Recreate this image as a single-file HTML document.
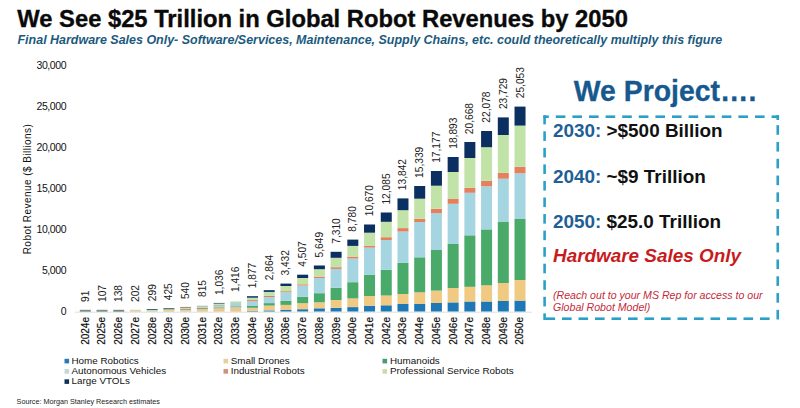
<!DOCTYPE html>
<html><head><meta charset="utf-8">
<style>
html,body{margin:0;padding:0;background:#fff;}
body{width:800px;height:408px;position:relative;overflow:hidden;font-family:"Liberation Sans",sans-serif;}
.abs{position:absolute;white-space:nowrap;}
svg{position:absolute;left:0;top:0;}
svg text{font-family:"Liberation Sans",sans-serif;}
.v{font-size:10.2px;fill:#222;}
.yr{font-size:10px;fill:#111;stroke:#111;stroke-width:0.2px;}
.ya{font-size:10.5px;fill:#111;letter-spacing:-0.4px;}
.yt{font-size:10px;fill:#111;letter-spacing:0.45px;}
.leg{font-size:9.85px;fill:#111;}
</style></head><body>
<div class="abs" id="title" style="left:17.3px;top:4px;font-size:23.75px;font-weight:bold;color:#0a0a0a;-webkit-text-stroke:0.35px #0a0a0a;line-height:30px;">We See $25 Trillion in Global Robot Revenues by 2050</div>
<div class="abs" id="sub" style="left:17.5px;top:32px;font-size:12.47px;font-weight:bold;font-style:italic;color:#1b5a7e;line-height:16px;">Final Hardware Sales Only- Software/Services, Maintenance, Supply Chains, etc. could theoretically multiply this figure</div>
<svg width="800" height="408" viewBox="0 0 800 408">
<line x1="75" y1="312.2" x2="532" y2="312.2" stroke="#d8d8d8" stroke-width="0.8"/>
<rect x="79.80" y="309.80" width="11.0" height="1.90" fill="#7f8c84"/>
<text class="v" transform="translate(88.80,302.00) rotate(-90)">91</text>
<text class="yr" transform="translate(88.70,317.00) rotate(-90)" text-anchor="end">2024e</text>
<rect x="96.52" y="309.80" width="11.0" height="1.90" fill="#808d86"/>
<text class="v" transform="translate(105.52,302.00) rotate(-90)">107</text>
<text class="yr" transform="translate(105.42,317.00) rotate(-90)" text-anchor="end">2025e</text>
<rect x="113.24" y="309.80" width="11.0" height="1.90" fill="#7a8780"/>
<text class="v" transform="translate(122.24,302.00) rotate(-90)">138</text>
<text class="yr" transform="translate(122.14,317.00) rotate(-90)" text-anchor="end">2026e</text>
<rect x="129.96" y="309.80" width="11.0" height="1.90" fill="#d8d2b0"/>
<text class="v" transform="translate(138.96,302.00) rotate(-90)">202</text>
<text class="yr" transform="translate(138.86,317.00) rotate(-90)" text-anchor="end">2027e</text>
<rect x="146.68" y="309.00" width="11.0" height="1.20" fill="#4a6a5a"/>
<rect x="146.68" y="310.20" width="11.0" height="1.50" fill="#c8d4b8"/>
<text class="v" transform="translate(155.68,301.20) rotate(-90)">299</text>
<text class="yr" transform="translate(155.58,317.00) rotate(-90)" text-anchor="end">2028e</text>
<rect x="163.40" y="308.20" width="11.0" height="1.10" fill="#3c5a55"/>
<rect x="163.40" y="309.30" width="11.0" height="0.90" fill="#9ab898"/>
<rect x="163.40" y="310.20" width="11.0" height="1.50" fill="#e4c890"/>
<text class="v" transform="translate(172.40,300.21) rotate(-90)">425</text>
<text class="yr" transform="translate(172.30,317.00) rotate(-90)" text-anchor="end">2029e</text>
<rect x="180.12" y="306.90" width="11.0" height="1.00" fill="#8a8a6a"/>
<rect x="180.12" y="307.90" width="11.0" height="1.10" fill="#d4d0b0"/>
<rect x="180.12" y="309.00" width="11.0" height="1.00" fill="#a8a880"/>
<rect x="180.12" y="310.00" width="11.0" height="1.70" fill="#dcd0a8"/>
<text class="v" transform="translate(189.12,299.10) rotate(-90)">540</text>
<text class="yr" transform="translate(189.02,317.00) rotate(-90)" text-anchor="end">2030e</text>
<rect x="196.84" y="305.75" width="11.0" height="1.05" fill="#a0b0a0"/>
<rect x="196.84" y="306.80" width="11.0" height="1.20" fill="#c8dcb8"/>
<rect x="196.84" y="308.00" width="11.0" height="1.00" fill="#8aa080"/>
<rect x="196.84" y="309.00" width="11.0" height="2.70" fill="#e0cc98"/>
<text class="v" transform="translate(205.84,297.02) rotate(-90)">815</text>
<text class="yr" transform="translate(205.74,317.00) rotate(-90)" text-anchor="end">2031e</text>
<rect x="213.56" y="302.90" width="11.0" height="1.10" fill="#6a8a7a"/>
<rect x="213.56" y="304.00" width="11.0" height="1.50" fill="#c8dcc0"/>
<rect x="213.56" y="305.50" width="11.0" height="1.00" fill="#7a9a90"/>
<rect x="213.56" y="306.50" width="11.0" height="1.00" fill="#c0d8c0"/>
<rect x="213.56" y="307.50" width="11.0" height="1.00" fill="#5a9a70"/>
<rect x="213.56" y="308.50" width="11.0" height="3.20" fill="#e8c890"/>
<text class="v" transform="translate(222.56,295.10) rotate(-90)">1,036</text>
<text class="yr" transform="translate(222.46,317.00) rotate(-90)" text-anchor="end">2032e</text>
<rect x="230.28" y="301.40" width="11.0" height="1.60" fill="#c0dcb0"/>
<rect x="230.28" y="303.00" width="11.0" height="3.50" fill="#a8d4d8"/>
<rect x="230.28" y="306.50" width="11.0" height="1.00" fill="#5aa070"/>
<rect x="230.28" y="307.50" width="11.0" height="4.20" fill="#e8c890"/>
<text class="v" transform="translate(239.28,292.09) rotate(-90)">1,416</text>
<text class="yr" transform="translate(239.18,317.00) rotate(-90)" text-anchor="end">2033e</text>
<rect x="247.00" y="310.70" width="11.0" height="0.80" fill="#1f78b6"/>
<rect x="247.00" y="307.80" width="11.0" height="2.90" fill="#f0ca82"/>
<rect x="247.00" y="306.00" width="11.0" height="1.80" fill="#4aaa6a"/>
<rect x="247.00" y="301.20" width="11.0" height="4.80" fill="#a6d5e2"/>
<rect x="247.00" y="300.10" width="11.0" height="1.10" fill="#e5805e"/>
<rect x="247.00" y="297.70" width="11.0" height="2.40" fill="#c2e3a8"/>
<rect x="247.00" y="296.20" width="11.0" height="1.50" fill="#0b2f60"/>
<text class="v" transform="translate(256.00,288.31) rotate(-90)">1,877</text>
<text class="yr" transform="translate(255.90,317.00) rotate(-90)" text-anchor="end">2034e</text>
<rect x="263.72" y="310.40" width="11.0" height="1.10" fill="#1f78b6"/>
<rect x="263.72" y="305.60" width="11.0" height="4.80" fill="#f0ca82"/>
<rect x="263.72" y="303.10" width="11.0" height="2.50" fill="#4aaa6a"/>
<rect x="263.72" y="297.00" width="11.0" height="6.10" fill="#a6d5e2"/>
<rect x="263.72" y="295.90" width="11.0" height="1.10" fill="#e5805e"/>
<rect x="263.72" y="291.90" width="11.0" height="4.00" fill="#c2e3a8"/>
<rect x="263.72" y="290.20" width="11.0" height="1.70" fill="#0b2f60"/>
<text class="v" transform="translate(272.72,280.22) rotate(-90)">2,864</text>
<text class="yr" transform="translate(272.62,317.00) rotate(-90)" text-anchor="end">2035e</text>
<rect x="280.44" y="309.70" width="11.0" height="1.80" fill="#1f78b6"/>
<rect x="280.44" y="304.90" width="11.0" height="4.80" fill="#f0ca82"/>
<rect x="280.44" y="300.60" width="11.0" height="4.30" fill="#4aaa6a"/>
<rect x="280.44" y="292.20" width="11.0" height="8.40" fill="#a6d5e2"/>
<rect x="280.44" y="291.20" width="11.0" height="1.00" fill="#e5805e"/>
<rect x="280.44" y="286.00" width="11.0" height="5.20" fill="#c2e3a8"/>
<rect x="280.44" y="283.60" width="11.0" height="2.40" fill="#0b2f60"/>
<text class="v" transform="translate(289.44,275.56) rotate(-90)">3,432</text>
<text class="yr" transform="translate(289.34,317.00) rotate(-90)" text-anchor="end">2036e</text>
<rect x="297.16" y="309.20" width="11.0" height="2.30" fill="#1f78b6"/>
<rect x="297.16" y="303.20" width="11.0" height="6.00" fill="#f0ca82"/>
<rect x="297.16" y="296.70" width="11.0" height="6.50" fill="#4aaa6a"/>
<rect x="297.16" y="285.50" width="11.0" height="11.20" fill="#a6d5e2"/>
<rect x="297.16" y="284.30" width="11.0" height="1.20" fill="#e5805e"/>
<rect x="297.16" y="278.00" width="11.0" height="6.30" fill="#c2e3a8"/>
<rect x="297.16" y="274.70" width="11.0" height="3.30" fill="#0b2f60"/>
<text class="v" transform="translate(306.16,266.74) rotate(-90)">4,507</text>
<text class="yr" transform="translate(306.06,317.00) rotate(-90)" text-anchor="end">2037e</text>
<rect x="313.88" y="308.30" width="11.0" height="3.20" fill="#1f78b6"/>
<rect x="313.88" y="302.30" width="11.0" height="6.00" fill="#f0ca82"/>
<rect x="313.88" y="293.20" width="11.0" height="9.10" fill="#4aaa6a"/>
<rect x="313.88" y="278.00" width="11.0" height="15.20" fill="#a6d5e2"/>
<rect x="313.88" y="276.60" width="11.0" height="1.40" fill="#e5805e"/>
<rect x="313.88" y="269.20" width="11.0" height="7.40" fill="#c2e3a8"/>
<rect x="313.88" y="265.50" width="11.0" height="3.70" fill="#0b2f60"/>
<text class="v" transform="translate(322.88,257.38) rotate(-90)">5,649</text>
<text class="yr" transform="translate(322.78,317.00) rotate(-90)" text-anchor="end">2038e</text>
<rect x="330.60" y="307.80" width="11.0" height="3.70" fill="#1f78b6"/>
<rect x="330.60" y="300.00" width="11.0" height="7.80" fill="#f0ca82"/>
<rect x="330.60" y="287.70" width="11.0" height="12.30" fill="#4aaa6a"/>
<rect x="330.60" y="268.90" width="11.0" height="18.80" fill="#a6d5e2"/>
<rect x="330.60" y="267.20" width="11.0" height="1.70" fill="#e5805e"/>
<rect x="330.60" y="257.80" width="11.0" height="9.40" fill="#c2e3a8"/>
<rect x="330.60" y="251.80" width="11.0" height="6.00" fill="#0b2f60"/>
<text class="v" transform="translate(339.60,243.76) rotate(-90)">7,310</text>
<text class="yr" transform="translate(339.50,317.00) rotate(-90)" text-anchor="end">2039e</text>
<rect x="347.32" y="307.10" width="11.0" height="4.40" fill="#1f78b6"/>
<rect x="347.32" y="298.40" width="11.0" height="8.70" fill="#f0ca82"/>
<rect x="347.32" y="282.20" width="11.0" height="16.20" fill="#4aaa6a"/>
<rect x="347.32" y="258.50" width="11.0" height="23.70" fill="#a6d5e2"/>
<rect x="347.32" y="256.60" width="11.0" height="1.90" fill="#e5805e"/>
<rect x="347.32" y="245.90" width="11.0" height="10.70" fill="#c2e3a8"/>
<rect x="347.32" y="239.60" width="11.0" height="6.30" fill="#0b2f60"/>
<text class="v" transform="translate(356.32,231.70) rotate(-90)">8,780</text>
<text class="yr" transform="translate(356.22,317.00) rotate(-90)" text-anchor="end">2040e</text>
<rect x="364.04" y="305.70" width="11.0" height="5.80" fill="#1f78b6"/>
<rect x="364.04" y="296.00" width="11.0" height="9.70" fill="#f0ca82"/>
<rect x="364.04" y="274.90" width="11.0" height="21.10" fill="#4aaa6a"/>
<rect x="364.04" y="247.60" width="11.0" height="27.30" fill="#a6d5e2"/>
<rect x="364.04" y="245.90" width="11.0" height="1.70" fill="#e5805e"/>
<rect x="364.04" y="232.70" width="11.0" height="13.20" fill="#c2e3a8"/>
<rect x="364.04" y="224.50" width="11.0" height="8.20" fill="#0b2f60"/>
<text class="v" transform="translate(373.04,216.21) rotate(-90)">10,670</text>
<text class="yr" transform="translate(372.94,317.00) rotate(-90)" text-anchor="end">2041e</text>
<rect x="380.76" y="305.30" width="11.0" height="6.20" fill="#1f78b6"/>
<rect x="380.76" y="295.50" width="11.0" height="9.80" fill="#f0ca82"/>
<rect x="380.76" y="269.80" width="11.0" height="25.70" fill="#4aaa6a"/>
<rect x="380.76" y="240.00" width="11.0" height="29.80" fill="#a6d5e2"/>
<rect x="380.76" y="237.20" width="11.0" height="2.80" fill="#e5805e"/>
<rect x="380.76" y="221.80" width="11.0" height="15.40" fill="#c2e3a8"/>
<rect x="380.76" y="212.50" width="11.0" height="9.30" fill="#0b2f60"/>
<text class="v" transform="translate(389.76,204.60) rotate(-90)">12,085</text>
<text class="yr" transform="translate(389.66,317.00) rotate(-90)" text-anchor="end">2042e</text>
<rect x="397.48" y="304.00" width="11.0" height="7.50" fill="#1f78b6"/>
<rect x="397.48" y="294.00" width="11.0" height="10.00" fill="#f0ca82"/>
<rect x="397.48" y="262.90" width="11.0" height="31.10" fill="#4aaa6a"/>
<rect x="397.48" y="231.50" width="11.0" height="31.40" fill="#a6d5e2"/>
<rect x="397.48" y="228.10" width="11.0" height="3.40" fill="#e5805e"/>
<rect x="397.48" y="210.20" width="11.0" height="17.90" fill="#c2e3a8"/>
<rect x="397.48" y="198.40" width="11.0" height="11.80" fill="#0b2f60"/>
<text class="v" transform="translate(406.48,190.20) rotate(-90)">13,842</text>
<text class="yr" transform="translate(406.38,317.00) rotate(-90)" text-anchor="end">2043e</text>
<rect x="414.20" y="304.00" width="11.0" height="7.50" fill="#1f78b6"/>
<rect x="414.20" y="292.30" width="11.0" height="11.70" fill="#f0ca82"/>
<rect x="414.20" y="257.30" width="11.0" height="35.00" fill="#4aaa6a"/>
<rect x="414.20" y="222.00" width="11.0" height="35.30" fill="#a6d5e2"/>
<rect x="414.20" y="218.80" width="11.0" height="3.20" fill="#e5805e"/>
<rect x="414.20" y="198.70" width="11.0" height="20.10" fill="#c2e3a8"/>
<rect x="414.20" y="186.00" width="11.0" height="12.70" fill="#0b2f60"/>
<text class="v" transform="translate(423.20,177.92) rotate(-90)">15,339</text>
<text class="yr" transform="translate(423.10,317.00) rotate(-90)" text-anchor="end">2044e</text>
<rect x="430.92" y="303.00" width="11.0" height="8.50" fill="#1f78b6"/>
<rect x="430.92" y="290.60" width="11.0" height="12.40" fill="#f0ca82"/>
<rect x="430.92" y="250.00" width="11.0" height="40.60" fill="#4aaa6a"/>
<rect x="430.92" y="213.20" width="11.0" height="36.80" fill="#a6d5e2"/>
<rect x="430.92" y="208.70" width="11.0" height="4.50" fill="#e5805e"/>
<rect x="430.92" y="185.70" width="11.0" height="23.00" fill="#c2e3a8"/>
<rect x="430.92" y="171.00" width="11.0" height="14.70" fill="#0b2f60"/>
<text class="v" transform="translate(439.92,162.85) rotate(-90)">17,177</text>
<text class="yr" transform="translate(439.82,317.00) rotate(-90)" text-anchor="end">2045e</text>
<rect x="447.64" y="302.40" width="11.0" height="9.10" fill="#1f78b6"/>
<rect x="447.64" y="288.00" width="11.0" height="14.40" fill="#f0ca82"/>
<rect x="447.64" y="244.00" width="11.0" height="44.00" fill="#4aaa6a"/>
<rect x="447.64" y="203.80" width="11.0" height="40.20" fill="#a6d5e2"/>
<rect x="447.64" y="199.00" width="11.0" height="4.80" fill="#e5805e"/>
<rect x="447.64" y="172.00" width="11.0" height="27.00" fill="#c2e3a8"/>
<rect x="447.64" y="157.00" width="11.0" height="15.00" fill="#0b2f60"/>
<text class="v" transform="translate(456.64,148.78) rotate(-90)">18,893</text>
<text class="yr" transform="translate(456.54,317.00) rotate(-90)" text-anchor="end">2046e</text>
<rect x="464.36" y="301.50" width="11.0" height="10.00" fill="#1f78b6"/>
<rect x="464.36" y="286.80" width="11.0" height="14.70" fill="#f0ca82"/>
<rect x="464.36" y="235.30" width="11.0" height="51.50" fill="#4aaa6a"/>
<rect x="464.36" y="192.80" width="11.0" height="42.50" fill="#a6d5e2"/>
<rect x="464.36" y="187.90" width="11.0" height="4.90" fill="#e5805e"/>
<rect x="464.36" y="158.00" width="11.0" height="29.90" fill="#c2e3a8"/>
<rect x="464.36" y="142.00" width="11.0" height="16.00" fill="#0b2f60"/>
<text class="v" transform="translate(473.36,134.20) rotate(-90)">20,668</text>
<text class="yr" transform="translate(473.26,317.00) rotate(-90)" text-anchor="end">2047e</text>
<rect x="481.08" y="301.50" width="11.0" height="10.00" fill="#1f78b6"/>
<rect x="481.08" y="285.30" width="11.0" height="16.20" fill="#f0ca82"/>
<rect x="481.08" y="229.40" width="11.0" height="55.90" fill="#4aaa6a"/>
<rect x="481.08" y="186.30" width="11.0" height="43.10" fill="#a6d5e2"/>
<rect x="481.08" y="180.90" width="11.0" height="5.40" fill="#e5805e"/>
<rect x="481.08" y="147.20" width="11.0" height="33.70" fill="#c2e3a8"/>
<rect x="481.08" y="131.00" width="11.0" height="16.20" fill="#0b2f60"/>
<text class="v" transform="translate(490.08,122.66) rotate(-90)">22,078</text>
<text class="yr" transform="translate(489.98,317.00) rotate(-90)" text-anchor="end">2048e</text>
<rect x="497.80" y="301.00" width="11.0" height="10.50" fill="#1f78b6"/>
<rect x="497.80" y="283.00" width="11.0" height="18.00" fill="#f0ca82"/>
<rect x="497.80" y="222.00" width="11.0" height="61.00" fill="#4aaa6a"/>
<rect x="497.80" y="178.70" width="11.0" height="43.30" fill="#a6d5e2"/>
<rect x="497.80" y="172.80" width="11.0" height="5.90" fill="#e5805e"/>
<rect x="497.80" y="135.00" width="11.0" height="37.80" fill="#c2e3a8"/>
<rect x="497.80" y="117.40" width="11.0" height="17.60" fill="#0b2f60"/>
<text class="v" transform="translate(506.80,109.12) rotate(-90)">23,729</text>
<text class="yr" transform="translate(506.70,317.00) rotate(-90)" text-anchor="end">2049e</text>
<rect x="514.52" y="300.60" width="11.0" height="10.90" fill="#1f78b6"/>
<rect x="514.52" y="280.00" width="11.0" height="20.60" fill="#f0ca82"/>
<rect x="514.52" y="219.00" width="11.0" height="61.00" fill="#4aaa6a"/>
<rect x="514.52" y="173.30" width="11.0" height="45.70" fill="#a6d5e2"/>
<rect x="514.52" y="166.80" width="11.0" height="6.50" fill="#e5805e"/>
<rect x="514.52" y="125.60" width="11.0" height="41.20" fill="#c2e3a8"/>
<rect x="514.52" y="106.60" width="11.0" height="19.00" fill="#0b2f60"/>
<text class="v" transform="translate(523.52,98.27) rotate(-90)">25,053</text>
<text class="yr" transform="translate(523.42,317.00) rotate(-90)" text-anchor="end">2050e</text>
<text class="ya" x="66.2" y="315.40" text-anchor="end">0</text>
<text class="ya" x="66.2" y="274.40" text-anchor="end">5,000</text>
<text class="ya" x="66.2" y="233.40" text-anchor="end">10,000</text>
<text class="ya" x="66.2" y="192.40" text-anchor="end">15,000</text>
<text class="ya" x="66.2" y="151.40" text-anchor="end">20,000</text>
<text class="ya" x="66.2" y="110.40" text-anchor="end">25,000</text>
<text class="ya" x="66.2" y="69.40" text-anchor="end">30,000</text>
<text class="yt" transform="translate(30.8,254.3) rotate(-90)">Robot Revenue ($ Billions)</text>
<rect x="64.5" y="358.8" width="4.6" height="4.6" fill="#2a7ab4"/>
<rect x="64.5" y="369.1" width="4.6" height="4.6" fill="#c2d8d8"/>
<rect x="64.5" y="379.3" width="4.6" height="4.6" fill="#0f3358"/>
<text class="leg" x="71.5" y="363.5">Home Robotics</text>
<text class="leg" x="71.5" y="373.8">Autonomous Vehicles</text>
<text class="leg" x="71.5" y="384">Large VTOLs</text>
<rect x="223.5" y="358.8" width="4.6" height="4.6" fill="#e8d09a"/>
<rect x="223.5" y="369.1" width="4.6" height="4.6" fill="#d4907a"/>
<text class="leg" x="230.7" y="363.5">Small Drones</text>
<text class="leg" x="230.7" y="373.8">Industrial Robots</text>
<rect x="382.5" y="358.8" width="4.6" height="4.6" fill="#4a9a70"/>
<rect x="382.5" y="369.1" width="4.6" height="4.6" fill="#c8dcb0"/>
<text class="leg" x="390" y="363.5">Humanoids</text>
<text class="leg" x="390" y="373.8">Professional Service Robots</text>
<text x="16.6" y="404" style="font-size:7.22px;fill:#222;">Source: Morgan Stanley Research estimates</text>
<rect x="543.30" y="115.40" width="5.50" height="2.6" fill="#2a9fc8"/>
<rect x="555.80" y="115.40" width="9.60" height="2.6" fill="#2a9fc8"/>
<rect x="572.40" y="115.40" width="9.60" height="2.6" fill="#2a9fc8"/>
<rect x="589.00" y="115.40" width="9.60" height="2.6" fill="#2a9fc8"/>
<rect x="605.60" y="115.40" width="9.60" height="2.6" fill="#2a9fc8"/>
<rect x="622.20" y="115.40" width="9.60" height="2.6" fill="#2a9fc8"/>
<rect x="638.80" y="115.40" width="9.60" height="2.6" fill="#2a9fc8"/>
<rect x="655.40" y="115.40" width="9.60" height="2.6" fill="#2a9fc8"/>
<rect x="672.00" y="115.40" width="9.60" height="2.6" fill="#2a9fc8"/>
<rect x="688.60" y="115.40" width="9.60" height="2.6" fill="#2a9fc8"/>
<rect x="705.20" y="115.40" width="9.60" height="2.6" fill="#2a9fc8"/>
<rect x="721.80" y="115.40" width="9.60" height="2.6" fill="#2a9fc8"/>
<rect x="738.40" y="115.40" width="9.60" height="2.6" fill="#2a9fc8"/>
<rect x="755.00" y="115.40" width="9.60" height="2.6" fill="#2a9fc8"/>
<rect x="771.60" y="115.40" width="7.45" height="2.6" fill="#2a9fc8"/>
<rect x="776.45" y="115.40" width="2.6" height="4.60" fill="#2a9fc8"/>
<rect x="776.45" y="115.40" width="2.6" height="2.60" fill="#2a9fc8"/>
<rect x="776.45" y="125.19" width="2.6" height="9.60" fill="#2a9fc8"/>
<rect x="776.45" y="141.98" width="2.6" height="9.60" fill="#2a9fc8"/>
<rect x="776.45" y="158.77" width="2.6" height="9.60" fill="#2a9fc8"/>
<rect x="776.45" y="175.56" width="2.6" height="9.60" fill="#2a9fc8"/>
<rect x="776.45" y="192.35" width="2.6" height="9.60" fill="#2a9fc8"/>
<rect x="776.45" y="209.14" width="2.6" height="9.60" fill="#2a9fc8"/>
<rect x="776.45" y="225.93" width="2.6" height="9.60" fill="#2a9fc8"/>
<rect x="776.45" y="242.72" width="2.6" height="9.60" fill="#2a9fc8"/>
<rect x="776.45" y="259.51" width="2.6" height="9.60" fill="#2a9fc8"/>
<rect x="776.45" y="276.30" width="2.6" height="9.60" fill="#2a9fc8"/>
<rect x="776.45" y="293.09" width="2.6" height="9.60" fill="#2a9fc8"/>
<rect x="776.45" y="309.88" width="2.6" height="9.60" fill="#2a9fc8"/>
<rect x="545.50" y="317.40" width="9.60" height="2.6" fill="#2a9fc8"/>
<rect x="562.00" y="317.40" width="9.60" height="2.6" fill="#2a9fc8"/>
<rect x="578.50" y="317.40" width="9.60" height="2.6" fill="#2a9fc8"/>
<rect x="595.00" y="317.40" width="9.60" height="2.6" fill="#2a9fc8"/>
<rect x="611.50" y="317.40" width="9.60" height="2.6" fill="#2a9fc8"/>
<rect x="628.00" y="317.40" width="9.60" height="2.6" fill="#2a9fc8"/>
<rect x="644.50" y="317.40" width="9.60" height="2.6" fill="#2a9fc8"/>
<rect x="661.00" y="317.40" width="9.60" height="2.6" fill="#2a9fc8"/>
<rect x="677.50" y="317.40" width="9.60" height="2.6" fill="#2a9fc8"/>
<rect x="694.00" y="317.40" width="9.60" height="2.6" fill="#2a9fc8"/>
<rect x="710.50" y="317.40" width="9.60" height="2.6" fill="#2a9fc8"/>
<rect x="727.00" y="317.40" width="9.60" height="2.6" fill="#2a9fc8"/>
<rect x="743.50" y="317.40" width="9.60" height="2.6" fill="#2a9fc8"/>
<rect x="760.00" y="317.40" width="9.60" height="2.6" fill="#2a9fc8"/>
<rect x="543.30" y="115.40" width="2.6" height="8.95" fill="#2a9fc8"/>
<rect x="543.30" y="131.30" width="2.6" height="9.60" fill="#2a9fc8"/>
<rect x="543.30" y="147.85" width="2.6" height="9.60" fill="#2a9fc8"/>
<rect x="543.30" y="164.40" width="2.6" height="9.60" fill="#2a9fc8"/>
<rect x="543.30" y="180.95" width="2.6" height="9.60" fill="#2a9fc8"/>
<rect x="543.30" y="197.50" width="2.6" height="9.60" fill="#2a9fc8"/>
<rect x="543.30" y="214.05" width="2.6" height="9.60" fill="#2a9fc8"/>
<rect x="543.30" y="230.60" width="2.6" height="9.60" fill="#2a9fc8"/>
<rect x="543.30" y="247.15" width="2.6" height="9.60" fill="#2a9fc8"/>
<rect x="543.30" y="263.70" width="2.6" height="9.60" fill="#2a9fc8"/>
<rect x="543.30" y="280.25" width="2.6" height="9.60" fill="#2a9fc8"/>
<rect x="543.30" y="296.80" width="2.6" height="9.60" fill="#2a9fc8"/>
<rect x="543.30" y="313.35" width="2.6" height="6.65" fill="#2a9fc8"/>
</svg>
<div class="abs" style="left:573.8px;top:73px;font-size:28.4px;font-weight:bold;color:#17598f;-webkit-text-stroke:0.3px #17598f;line-height:36px;transform:scaleY(1.06);transform-origin:0 28px;">We Project….</div>
<div class="abs" style="left:553px;top:120px;font-size:18.9px;font-weight:bold;color:#111;line-height:22px;"><span style="color:#1e5f95">2030:</span> &gt;$500 Billion</div>
<div class="abs" style="left:553px;top:166px;font-size:18.9px;font-weight:bold;color:#111;line-height:22px;"><span style="color:#1e5f95">2040:</span> ~$9 Trillion</div>
<div class="abs" style="left:553px;top:211px;font-size:18.9px;font-weight:bold;color:#111;line-height:22px;"><span style="color:#1e5f95">2050:</span> $25.0 Trillion</div>
<div class="abs" style="left:553px;top:245.4px;font-size:18.9px;font-weight:bold;font-style:italic;color:#c81b20;line-height:22px;">Hardware Sales Only</div>
<div class="abs" style="left:553px;top:289px;font-size:10.6px;font-style:italic;color:#c42a3a;line-height:12.2px;">(Reach out to your MS Rep for access to our<br>Global Robot Model)</div>
</body></html>
